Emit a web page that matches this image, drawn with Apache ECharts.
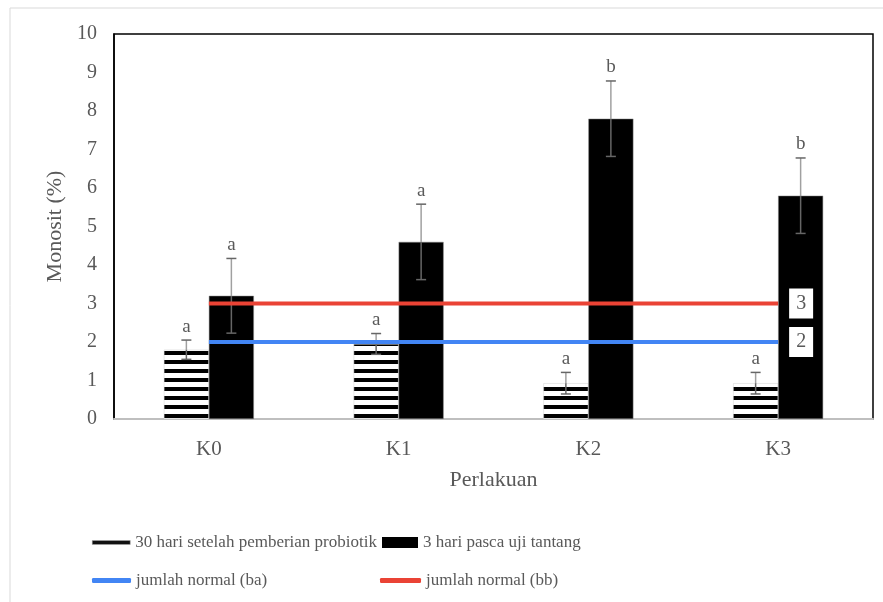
<!DOCTYPE html>
<html>
<head>
<meta charset="utf-8">
<script src="https://cdn.jsdelivr.net/npm/echarts@6/dist/echarts.min.js"></script>
<style>html,body{margin:0;padding:0;background:#fff}#c{width:883px;height:602px}</style>
</head>
<body>
<div id="c"></div>
<script>
const categories = ['K0', 'K1', 'K2', 'K3'];
const probiotik = [1.8, 1.95, 0.93, 0.93];
const probiotikErr = [0.25, 0.27, 0.28, 0.28];
const tantang = [3.2, 4.6, 7.8, 5.8];
const tantangErr = [0.97, 0.98, 0.98, 0.98];
const lettersProbiotik = ['a', 'a', 'a', 'a'];
const lettersTantang = ['a', 'a', 'b', 'b'];
const normalBa = [2, 2, 2, 2];
const normalBb = [3, 3, 3, 3];
const yTicks = { min: 0, max: 10, interval: 1 };

const S1 = '30 hari setelah pemberian probiotik';
const S2 = '3 hari pasca uji tantang';
const S3 = 'jumlah normal (ba)';
const S4 = 'jumlah normal (bb)';

const FONT = '"Liberation Serif", "DejaVu Serif", serif';
const TXT = '#595959';
const BAR_W = 45;

// stripe pattern
const pc = document.createElement('canvas');
pc.width = 8; pc.height = 9;
const pctx = pc.getContext('2d');
pctx.fillStyle = '#fff'; pctx.fillRect(0, 0, 8, 9);
pctx.fillStyle = '#000'; pctx.fillRect(0, 0, 8, 4);

function errRenderer(vals, errs, letters, offset) {
  return function (params, api) {
    const i = params.dataIndex;
    const v = vals[i], e = errs[i];
    const top = api.coord([i, v + e]);
    const mid = api.coord([i, v]);
    const bot = api.coord([i, v - e]);
    const x = top[0] + offset;
    const cw = 5;
    return {
      type: 'group',
      children: [
        { type: 'line', shape: { x1: x, y1: top[1], x2: x, y2: mid[1] }, style: { stroke: '#a0a0a0', lineWidth: 1.5 } },
        { type: 'line', shape: { x1: x, y1: mid[1], x2: x, y2: bot[1] }, style: { stroke: '#666', lineWidth: 1.5 } },
        { type: 'line', shape: { x1: x - cw, y1: top[1], x2: x + cw, y2: top[1] }, style: { stroke: '#666', lineWidth: 1.5 } },
        { type: 'line', shape: { x1: x - cw, y1: bot[1], x2: x + cw, y2: bot[1] }, style: { stroke: '#666', lineWidth: 1.5 } },
        { type: 'text', style: { text: letters[i], x: x, y: top[1] - 4, align: 'center', verticalAlign: 'bottom', fontSize: 19, fontFamily: FONT, fill: TXT } }
      ]
    };
  };
}

const endLbl = {
  show: true, distance: 11, formatter: p => String(p.value),
  backgroundColor: '#fff', padding: [6, 7, 4, 7], color: TXT, fontSize: 20, fontFamily: FONT
};

const legendText = { fontSize: 17, fontFamily: FONT, color: TXT };

const chart = echarts.init(document.getElementById('c'), null, { renderer: 'canvas' });
chart.setOption({
  animation: false,
  backgroundColor: '#fff',
  graphic: [{
    type: 'rect', shape: { x: 10, y: 8, width: 900, height: 620 },
    style: { fill: 'none', stroke: '#d9d9d9', lineWidth: 1 }, z: -1
  }],
  grid: { left: 114, top: 34, right: 10, bottom: 183, show: true, borderColor: '#000', borderWidth: 1.5, backgroundColor: 'transparent' },
  legend: [
    { left: 87, top: 529, itemWidth: 38, itemHeight: 4, itemGap: 0, selectedMode: false, textStyle: legendText,
      data: [{ name: S1, icon: 'rect', itemStyle: { color: '#111', borderColor: '#aaa', borderWidth: 0.5 } }] },
    { left: 377, top: 529, itemWidth: 36, itemHeight: 11, itemGap: 0, selectedMode: false, textStyle: legendText,
      data: [{ name: S2, icon: 'rect', itemStyle: { color: '#000', borderWidth: 0 } }] },
    { left: 87, top: 567, itemWidth: 39, itemHeight: 5, itemGap: 0, selectedMode: false, textStyle: legendText,
      data: [{ name: S3, icon: 'roundRect', itemStyle: { color: '#4285f4' } }] },
    { left: 375, top: 567, itemWidth: 41, itemHeight: 5, itemGap: 0, selectedMode: false, textStyle: legendText,
      data: [{ name: S4, icon: 'roundRect', itemStyle: { color: '#ea4335' } }] }
  ],
  xAxis: {
    type: 'category', data: categories,
    name: 'Perlakuan', nameLocation: 'middle', nameGap: 50,
    nameTextStyle: { fontSize: 22, fontFamily: FONT, color: TXT },
    axisLine: { lineStyle: { color: '#bfbfbf', width: 2 } },
    axisTick: { show: false },
    axisLabel: { fontSize: 21, fontFamily: FONT, color: TXT, margin: 20 }
  },
  yAxis: {
    type: 'value', min: yTicks.min, max: yTicks.max, interval: yTicks.interval,
    name: 'Monosit (%)', nameLocation: 'middle', nameGap: 47,
    nameTextStyle: { fontSize: 22, fontFamily: FONT, color: TXT },
    axisLine: { show: true, lineStyle: { color: '#000', width: 1.5 } },
    axisTick: { show: false },
    splitLine: { show: false },
    axisLabel: { fontSize: 20, fontFamily: FONT, color: TXT, margin: 17 }
  },
  series: [
    { name: S1, type: 'bar', data: probiotik, barWidth: BAR_W, barGap: '0%',
      itemStyle: { color: { image: pc, repeat: 'repeat' }, borderColor: '#d0d0d0', borderWidth: 0.5 }, z: 2 },
    { name: S2, type: 'bar', data: tantang, barWidth: BAR_W, barGap: '0%',
      itemStyle: { color: '#000', borderColor: '#888', borderWidth: 0.5 }, z: 2 },
    { type: 'custom', data: probiotik.map((v, i) => [i, v]), z: 3, silent: true,
      renderItem: errRenderer(probiotik, probiotikErr, lettersProbiotik, -BAR_W / 2) },
    { type: 'custom', data: tantang.map((v, i) => [i, v]), z: 3, silent: true,
      renderItem: errRenderer(tantang, tantangErr, lettersTantang, BAR_W / 2) },
    { name: S3, type: 'line', data: normalBa, symbol: 'none', z: 5,
      lineStyle: { color: '#4285f4', width: 4 }, itemStyle: { color: '#4285f4' }, endLabel: endLbl },
    { name: S4, type: 'line', data: normalBb, symbol: 'none', z: 5,
      lineStyle: { color: '#ea4335', width: 4 }, itemStyle: { color: '#ea4335' }, endLabel: endLbl }
  ]
});
</script>
</body>
</html>
